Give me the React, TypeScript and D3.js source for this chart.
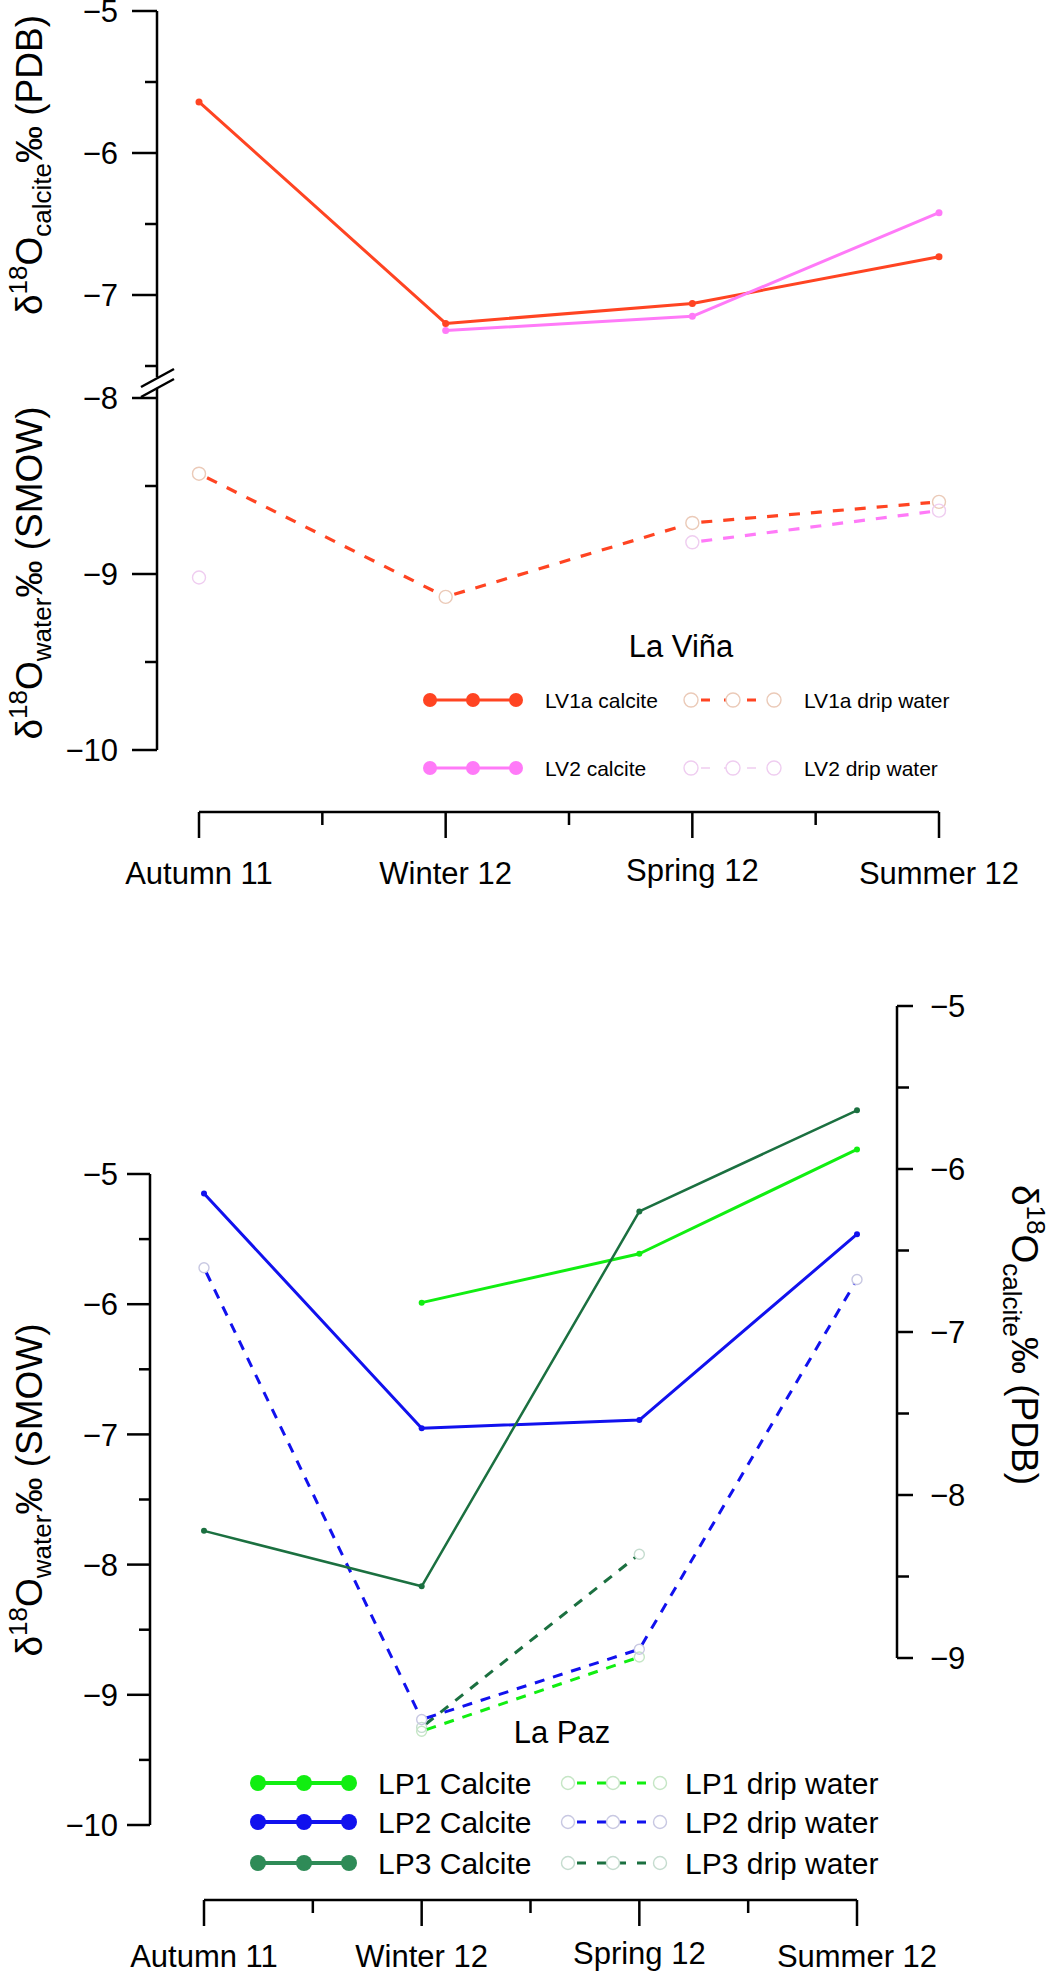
import React from "react";
import * as d3 from "d3";

const seasons = ["Autumn 11", "Winter 12", "Spring 12", "Summer 12"];

// La Viña (top): calcite on PDB (upper axis), drip water on SMOW (lower axis)
const lv1aCalcite: (number | null)[] = [-5.64, -7.2, -7.06, -6.73];
const lv2Calcite: (number | null)[] = [null, -7.25, -7.15, -6.42];
const lv1aDrip: (number | null)[] = [-8.43, -9.13, -8.71, -8.59];
const lv2Drip: (number | null)[] = [-9.02, null, -8.82, -8.64];

// La Paz (bottom): calcite on right PDB axis, drip water on left SMOW axis
const lp1Calcite: (number | null)[] = [null, -6.82, -6.52, -5.88];
const lp2Calcite: (number | null)[] = [-6.15, -7.59, -7.54, -6.4];
const lp3Calcite: (number | null)[] = [-8.22, -8.56, -6.26, -5.64];
const lp1Drip: (number | null)[] = [null, -9.28, -8.71, null];
const lp2Drip: (number | null)[] = [-5.72, -9.19, -8.65, -5.81];
const lp3Drip: (number | null)[] = [null, -9.25, -7.92, null];

const topUpperMajor = [-5, -6, -7];
const topUpperMinor = [-5.5, -6.5, -7.5];
const topLowerMajor = [-8, -9, -10];
const topLowerMinor = [-8.5, -9.5];
const botLeftMajor = [-5, -6, -7, -8, -9, -10];
const botLeftMinor = [-5.5, -6.5, -7.5, -8.5, -9.5];
const botRightMajor = [-5, -6, -7, -8, -9];
const botRightMinor = [-5.5, -6.5, -7.5, -8.5];

const FONT = "'Liberation Sans', Arial, Helvetica, sans-serif";
const fmt = (v: number) => (v < 0 ? "\u2212" + Math.abs(v) : String(v));

const C = {
  lv1a: "#ff4422",
  lv2: "#ff7af8",
  lv1aC: "#ebcab8",
  lv2C: "#efcdf0",
  lp1: "#11ee11",
  lp2: "#1111ee",
  lp3: "#1b7040",
  lp3L: "#2e8b57",
  lp1C: "#c5e6c5",
  lp2C: "#c8c8e2",
  lp3C: "#c5dccf",
};

type Sc = (v: number) => number;

function segments(vals: (number | null)[], x: (s: string) => number, y: Sc, gap: number) {
  const out: { x1: number; y1: number; x2: number; y2: number }[] = [];
  for (let i = 0; i < vals.length - 1; i++) {
    const a = vals[i];
    const b = vals[i + 1];
    if (a == null || b == null) continue;
    const x1 = x(seasons[i]);
    const y1 = y(a);
    const x2 = x(seasons[i + 1]);
    const y2 = y(b);
    const L = Math.hypot(x2 - x1, y2 - y1);
    const ux = (x2 - x1) / L;
    const uy = (y2 - y1) / L;
    out.push({ x1: x1 + ux * gap, y1: y1 + uy * gap, x2: x2 - ux * gap, y2: y2 - uy * gap });
  }
  return out;
}

function SolidSeries({ vals, x, y, color, w, r }: { vals: (number | null)[]; x: (s: string) => number; y: Sc; color: string; w: number; r: number }) {
  const line = d3
    .line<number | null>()
    .defined((d) => d != null)
    .x((_, i) => x(seasons[i]))
    .y((d) => y(d as number));
  return (
    <g>
      <path d={line(vals) || ""} fill="none" stroke={color} strokeWidth={w} strokeLinejoin="round" />
      {vals.map((v, i) =>
        v == null ? null : <circle key={i} cx={x(seasons[i])} cy={y(v)} r={r} fill={color} />
      )}
    </g>
  );
}

function DripSeries({ vals, x, y, color, circ, w, r, gap, dash }: { vals: (number | null)[]; x: (s: string) => number; y: Sc; color: string; circ: string; w: number; r: number; gap: number; dash: string }) {
  return (
    <g>
      {segments(vals, x, y, gap).map((s, i) => (
        <line key={i} {...s} stroke={color} strokeWidth={w} strokeDasharray={dash} />
      ))}
      {vals.map((v, i) =>
        v == null ? null : (
          <circle key={i} cx={x(seasons[i])} cy={y(v)} r={r} fill="none" stroke={circ} strokeWidth={1.4} />
        )
      )}
    </g>
  );
}

function YTicks({ ax, major, minor, y, majLen, minLen, side, labelX, fs }: { ax: number; major: number[]; minor: number[]; y: Sc; majLen: number; minLen: number; side: number; labelX: number; fs: number }) {
  return (
    <g>
      {major.map((t) => (
        <g key={"M" + t}>
          <line x1={ax} x2={ax + side * majLen} y1={y(t)} y2={y(t)} stroke="#000" strokeWidth={2.5} />
          <text x={labelX} y={y(t) + fs * 0.36} fontSize={fs} textAnchor={side < 0 ? "end" : "start"} fontFamily={FONT}>
            {fmt(t)}
          </text>
        </g>
      ))}
      {minor.map((t) => (
        <line key={"m" + t} x1={ax} x2={ax + side * minLen} y1={y(t)} y2={y(t)} stroke="#000" strokeWidth={2.5} />
      ))}
    </g>
  );
}

function XAxis({ x, y0, labelY }: { x: d3.ScalePoint<string>; y0: number; labelY: number }) {
  const xs = seasons.map((s) => x(s) as number);
  const mids = xs.slice(0, -1).map((v, i) => (v + xs[i + 1]) / 2);
  return (
    <g>
      <line x1={xs[0]} x2={xs[xs.length - 1]} y1={y0} y2={y0} stroke="#000" strokeWidth={2.5} />
      {xs.map((v, i) => (
        <g key={i}>
          <line x1={v} x2={v} y1={y0} y2={y0 + 26} stroke="#000" strokeWidth={2.5} />
          <text x={v} y={labelY - (seasons[i].startsWith("Spring") ? 3 : 0)} fontSize={31} textAnchor="middle" fontFamily={FONT}>
            {seasons[i]}
          </text>
        </g>
      ))}
      {mids.map((v, i) => (
        <line key={"m" + i} x1={v} x2={v} y1={y0} y2={y0 + 13} stroke="#000" strokeWidth={2.5} />
      ))}
    </g>
  );
}

function Title({ x, y, rot, sub, unit }: { x: number; y: number; rot: number; sub: string; unit: string }) {
  return (
    <text transform={`translate(${x},${y}) rotate(${rot})`} textAnchor="middle" fontSize={37} fontFamily={FONT}>
      δ
      <tspan fontSize={26} dy={-15}>18</tspan>
      <tspan dy={15}>O</tspan>
      <tspan fontSize={26} dy={9}>{sub}</tspan>
      <tspan dy={-9}>{"\u2030 (" + unit + ")"}</tspan>
    </text>
  );
}

export default function App() {
  // Top chart scales
  const xT = d3.scalePoint<string>().domain(seasons).range([199, 939]);
  const yTU = d3.scaleLinear().domain([-5, -7.5]).range([11, 366]);
  const yTL = d3.scaleLinear().domain([-8, -10]).range([398, 750]);
  // Bottom chart scales
  const xB = d3.scalePoint<string>().domain(seasons).range([204, 857]);
  const yBL = d3.scaleLinear().domain([-5, -10]).range([1174, 1825]);
  const yBR = d3.scaleLinear().domain([-5, -9]).range([1006, 1658]);
  const fx = (s: string) => xT(s) as number;
  const fxb = (s: string) => xB(s) as number;

  const topLegend = [
    { y: 700, c: C.lv1a, cc: C.lv1aC, dl: C.lv1a, dw: 3, a: "LV1a calcite", b: "LV1a drip water" },
    { y: 768, c: C.lv2, cc: C.lv2C, dl: C.lv2C, dw: 1.5, a: "LV2 calcite", b: "LV2 drip water" },
  ];
  const botLegend = [
    { y: 1783, c: C.lp1, cc: C.lp1C, dl: C.lp1, a: "LP1 Calcite", b: "LP1 drip water" },
    { y: 1822, c: C.lp2, cc: C.lp2C, dl: C.lp2, a: "LP2 Calcite", b: "LP2 drip water" },
    { y: 1863, c: C.lp3L, cc: C.lp3C, dl: C.lp3, a: "LP3 Calcite", b: "LP3 drip water" },
  ];

  return (
    <svg
      width={1050}
      height={1973}
      viewBox="0 0 1050 1973"
      style={{ position: "absolute", left: 0, top: 0, display: "block", background: "#fff" }}
    >
      <rect width={1050} height={1973} fill="#fff" />

      {/* ================= TOP: La Viña ================= */}
      <line x1={157} x2={157} y1={11} y2={377} stroke="#000" strokeWidth={2.5} />
      <line x1={157} x2={157} y1={389} y2={750} stroke="#000" strokeWidth={2.5} />
      <line x1={141} y1={387} x2={174} y2={369} stroke="#000" strokeWidth={2.5} />
      <line x1={141} y1={397} x2={174} y2={379} stroke="#000" strokeWidth={2.5} />
      <YTicks ax={157} major={topUpperMajor} minor={topUpperMinor} y={yTU} majLen={25} minLen={12} side={-1} labelX={118} fs={31} />
      <YTicks ax={157} major={topLowerMajor} minor={topLowerMinor} y={yTL} majLen={25} minLen={12} side={-1} labelX={118} fs={31} />
      <Title x={42} y={165} rot={-90} sub="calcite" unit="PDB" />
      <Title x={42} y={573} rot={-90} sub="water" unit="SMOW" />

      <DripSeries vals={lv1aDrip} x={fx} y={yTL} color={C.lv1a} circ={C.lv1aC} w={3.2} r={6.5} gap={9} dash="11 11" />
      <DripSeries vals={lv2Drip} x={fx} y={yTL} color={C.lv2} circ={C.lv2C} w={3.2} r={6.5} gap={9} dash="11 11" />
      <SolidSeries vals={lv1aCalcite} x={fx} y={yTU} color={C.lv1a} w={3} r={3.5} />
      <SolidSeries vals={lv2Calcite} x={fx} y={yTU} color={C.lv2} w={3} r={3.5} />

      <XAxis x={xT} y0={812} labelY={884} />

      <text x={681} y={657} fontSize={31} textAnchor="middle" fontFamily={FONT}>La Viña</text>
      {topLegend.map((l) => (
        <g key={l.a}>
          <line x1={430} x2={516} y1={l.y} y2={l.y} stroke={l.c} strokeWidth={3} />
          {[430, 473, 516].map((cx) => (
            <circle key={cx} cx={cx} cy={l.y} r={7} fill={l.c} />
          ))}
          <text x={545} y={l.y + 7.5} fontSize={21} fontFamily={FONT}>{l.a}</text>
          <line x1={698} x2={767} y1={l.y} y2={l.y} stroke={l.dl} strokeWidth={l.dw} strokeDasharray="9 14" strokeDashoffset={-3} />
          {[691, 733, 774].map((cx) => (
            <circle key={cx} cx={cx} cy={l.y} r={7} fill="#fff" stroke={l.cc} strokeWidth={1.4} />
          ))}
          <text x={804} y={l.y + 7.5} fontSize={21} fontFamily={FONT}>{l.b}</text>
        </g>
      ))}

      {/* ================= BOTTOM: La Paz ================= */}
      <line x1={150} x2={150} y1={1174} y2={1825} stroke="#000" strokeWidth={2.5} />
      <YTicks ax={150} major={botLeftMajor} minor={botLeftMinor} y={yBL} majLen={23} minLen={11} side={-1} labelX={118} fs={31} />
      <line x1={897} x2={897} y1={1006} y2={1658} stroke="#000" strokeWidth={2.5} />
      <YTicks ax={897} major={botRightMajor} minor={botRightMinor} y={yBR} majLen={16} minLen={12} side={1} labelX={930} fs={31} />
      <Title x={42} y={1490} rot={-90} sub="water" unit="SMOW" />
      <Title x={1012} y={1335} rot={90} sub="calcite" unit="PDB" />

      <DripSeries vals={lp3Drip} x={fxb} y={yBL} color={C.lp3} circ={C.lp3C} w={3} r={5} gap={5} dash="10 9" />
      <DripSeries vals={lp1Drip} x={fxb} y={yBL} color={C.lp1} circ={C.lp1C} w={3} r={5} gap={5} dash="10 9" />
      <DripSeries vals={lp2Drip} x={fxb} y={yBL} color={C.lp2} circ={C.lp2C} w={3} r={5} gap={5} dash="10 9" />
      <SolidSeries vals={lp1Calcite} x={fxb} y={yBR} color={C.lp1} w={3} r={3} />
      <SolidSeries vals={lp2Calcite} x={fxb} y={yBR} color={C.lp2} w={3} r={3} />
      <SolidSeries vals={lp3Calcite} x={fxb} y={yBR} color={C.lp3} w={2.5} r={3} />

      <XAxis x={xB} y0={1900} labelY={1967} />

      <text x={562} y={1743} fontSize={31} textAnchor="middle" fontFamily={FONT}>La Paz</text>
      {botLegend.map((l) => (
        <g key={l.a}>
          <line x1={258} x2={349} y1={l.y} y2={l.y} stroke={l.c} strokeWidth={4} />
          {[258, 304, 349].map((cx) => (
            <circle key={cx} cx={cx} cy={l.y} r={8} fill={l.c} />
          ))}
          <text x={378} y={l.y + 10.5} fontSize={30} fontFamily={FONT}>{l.a}</text>
          <line x1={575} x2={654} y1={l.y} y2={l.y} stroke={l.dl} strokeWidth={3} strokeDasharray="9 11" strokeDashoffset={-2} />
          {[568, 613, 660].map((cx) => (
            <circle key={cx} cx={cx} cy={l.y} r={6.5} fill="#fff" stroke={l.cc} strokeWidth={1.4} />
          ))}
          <text x={685} y={l.y + 10.5} fontSize={30} fontFamily={FONT}>{l.b}</text>
        </g>
      ))}
    </svg>
  );
}
